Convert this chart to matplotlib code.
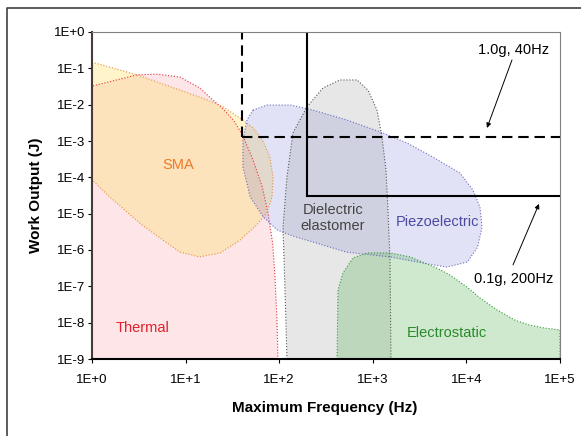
import matplotlib
matplotlib.use("Agg")
import matplotlib.pyplot as plt
import matplotlib.lines as mlines
import numpy as np

plt.rcParams["font.family"] = ["Liberation Sans", "DejaVu Sans"]

# region outlines as log10(frequency Hz), log10(work J)
thermal_logf = [0, 0, 0.48, 0.69, 0.94, 1.15, 1.29, 1.39, 1.51, 1.61, 1.72, 1.82,
                1.88, 1.93, 1.955, 1.976, 1.987]
thermal_logw = [-9, -1.49, -1.18, -1.16, -1.24, -1.54, -1.87, -2.09, -2.42, -2.84,
                -3.52, -4.27, -4.98, -5.81, -6.74, -7.93, -9]

sma_logf = [0, 0.48, 0.94, 1.23, 1.40, 1.61, 1.72, 1.82, 1.90, 1.934, 1.923, 1.87,
            1.76, 1.58, 1.37, 1.15, 0.94, 0.76, 0.51, 0.19, 0]
sma_logw = [-0.83, -1.18, -1.60, -1.87, -2.06, -2.42, -2.64, -2.97, -3.44, -3.99,
            -4.54, -4.96, -5.31, -5.73, -6.08, -6.19, -6.06, -5.73, -5.26, -4.54, -4.07]

piezo_logf = [1.72, 1.87, 2.12, 2.36, 2.72, 3.08, 3.37, 3.64, 3.93, 4.07, 4.145,
              4.167, 4.12, 4.01, 3.79, 3.54, 3.18, 2.72, 2.36, 2.15, 1.98, 1.83,
              1.69, 1.613, 1.613, 1.656]
piezo_logw = [-2.15, -2.01, -2.01, -2.15, -2.42, -2.75, -3.06, -3.44, -3.88, -4.35,
              -4.82, -5.37, -5.92, -6.33, -6.47, -6.36, -6.19, -6.06, -5.78, -5.62,
              -5.45, -5.09, -4.54, -3.72, -2.97, -2.42]

dielec_logf = [2.083, 2.062, 2.041, 2.083, 2.147, 2.297, 2.468, 2.65, 2.831, 2.949,
               3.045, 3.098, 3.141, 3.162, 3.184, 3.194]
dielec_logw = [-9, -7.10, -5.37, -3.99, -2.78, -2.06, -1.54, -1.32, -1.32, -1.60,
               -2.15, -2.89, -3.80, -4.90, -6.28, -9]

estat_logf = [2.618, 2.628, 2.682, 2.788, 2.938, 3.184, 3.397, 3.686, 3.825, 4.006,
              4.145, 4.327, 4.519, 4.679, 4.84, 5.0, 5.0]
estat_logw = [-9, -7.10, -6.63, -6.22, -6.08, -6.08, -6.19, -6.50, -6.69, -7.02,
              -7.32, -7.65, -7.93, -8.07, -8.15, -8.20, -9]

# 1.0g / 40Hz and 0.1g / 200Hz limits
lim40_f, lim40_w = 40, 1.3e-3
lim200_f, lim200_w = 200, 3.1e-5

xtick_vals = [1e0, 1e1, 1e2, 1e3, 1e4, 1e5]
xtick_labels = ["1E+0", "1E+1", "1E+2", "1E+3", "1E+4", "1E+5"]
ytick_vals = [1e-9, 1e-8, 1e-7, 1e-6, 1e-5, 1e-4, 1e-3, 1e-2, 1e-1, 1e0]
ytick_labels = ["1E-9", "1E-8", "1E-7", "1E-6", "1E-5", "1E-4", "1E-3", "1E-2", "1E-1", "1E+0"]

fig = plt.figure(figsize=(5.81, 4.36), dpi=100)
ax = fig.add_axes([92 / 581, 1 - 359 / 436, 468 / 581, 327 / 436])
ax.set_xscale("log")
ax.set_yscale("log")
ax.set_xlim(1, 1e5)
ax.set_ylim(1e-9, 1)

regions = [
    (thermal_logf, thermal_logw, (0.94, 0.24, 0.31), 0.13, "#e8303a"),
    (sma_logf, sma_logw, (1.0, 0.88, 0.40), 0.34, "#e39240"),
    (piezo_logf, piezo_logw, (0.35, 0.39, 0.82), 0.18, "#6a6ac0"),
    (dielec_logf, dielec_logw, (0.59, 0.59, 0.59), 0.22, "#555555"),
    (estat_logf, estat_logw, (0.24, 0.67, 0.24), 0.25, "#3a9a3a"),
]
for lf, lw_, fc, a, ec in regions:
    f = 10 ** np.array(lf)
    w = 10 ** np.array(lw_)
    ax.fill(f, w, color=fc, alpha=a, lw=0, zorder=1)
    ax.plot(np.append(f, f[0]), np.append(w, w[0]), ls=":", lw=0.8, color=ec, zorder=2)

# limit lines
ax.plot([lim40_f, lim40_f], [lim40_w, 1], color="black", lw=1.5, dashes=(5, 2.8), zorder=3)
ax.plot([lim40_f, 1e5], [lim40_w, lim40_w], color="black", lw=1.5, dashes=(5, 2.8), zorder=3)
ax.plot([lim200_f, lim200_f], [lim200_w, 1], color="black", lw=1.5, zorder=3)
ax.plot([lim200_f, 1e5], [lim200_w, lim200_w], color="black", lw=1.5, zorder=3)

# labels on regions
fs = 10.5
ax.text(10 ** 0.92, 10 ** -3.66, "SMA", color="#ee7a28", fontsize=fs, ha="center", va="center")
ax.text(10 ** 0.545, 10 ** -8.15, "Thermal", color="#e0202a", fontsize=fs, ha="center", va="center")
ax.text(10 ** 2.575, 10 ** -5.12, "Dielectric\nelastomer", color="#444444", fontsize=fs,
        ha="center", va="center", linespacing=1.2)
ax.text(10 ** 3.686, 10 ** -5.23, "Piezoelectric", color="#4a4aa0", fontsize=fs, ha="center", va="center")
ax.text(10 ** 3.793, 10 ** -8.29, "Electrostatic", color="#2a8a2a", fontsize=fs, ha="center", va="center")

ax.text(10 ** 4.5, 10 ** -0.5, "1.0g, 40Hz", fontsize=fs, ha="center", va="center")
ax.annotate("", xy=(10 ** 4.22, 10 ** -2.64), xytext=(10 ** 4.487, 10 ** -0.77),
            arrowprops=dict(arrowstyle="-|>", lw=0.7, color="black", mutation_scale=7, shrinkA=0, shrinkB=0))
ax.text(10 ** 4.51, 10 ** -6.81, "0.1g, 200Hz", fontsize=fs, ha="center", va="center")
ax.annotate("", xy=(10 ** 4.776, 10 ** -4.73), xytext=(10 ** 4.498, 10 ** -6.41),
            arrowprops=dict(arrowstyle="-|>", lw=0.7, color="black", mutation_scale=7, shrinkA=0, shrinkB=0))

ax.set_xticks(xtick_vals)
ax.set_xticklabels(xtick_labels)
ax.set_yticks(ytick_vals)
ax.set_yticklabels(ytick_labels)
ax.minorticks_off()
ax.tick_params(axis="both", direction="out", length=3, width=0.8, labelsize=9.5, colors="black")
ax.tick_params(axis="x", pad=8)
ax.tick_params(axis="y", pad=2)

for s in ["top", "right"]:
    ax.spines[s].set_color("#808080")
    ax.spines[s].set_linewidth(0.8)
ax.spines["left"].set_color("#4a3a3a")
ax.spines["left"].set_linewidth(1.5)
ax.spines["bottom"].set_color("black")
ax.spines["bottom"].set_linewidth(1.5)
for s in ax.spines.values():
    s.set_zorder(4)

ax.set_xlabel("Maximum Frequency (Hz)", fontsize=11, fontweight="bold")
ax.set_ylabel("Work Output (J)", fontsize=11, fontweight="bold")
ax.xaxis.set_label_coords(0.498, -0.128)
ax.yaxis.set_label_coords(-0.105, 0.50)

# outer frame: only its top and left edges fall inside the picture
fx, fy = 7 / 581, 1 - 8 / 436
fig.lines.append(mlines.Line2D([fx, fx, 1.2], [-0.2, fy, fy], transform=fig.transFigure,
                               color="#404040", lw=1.2))

fig.savefig("out.png", dpi=100)
